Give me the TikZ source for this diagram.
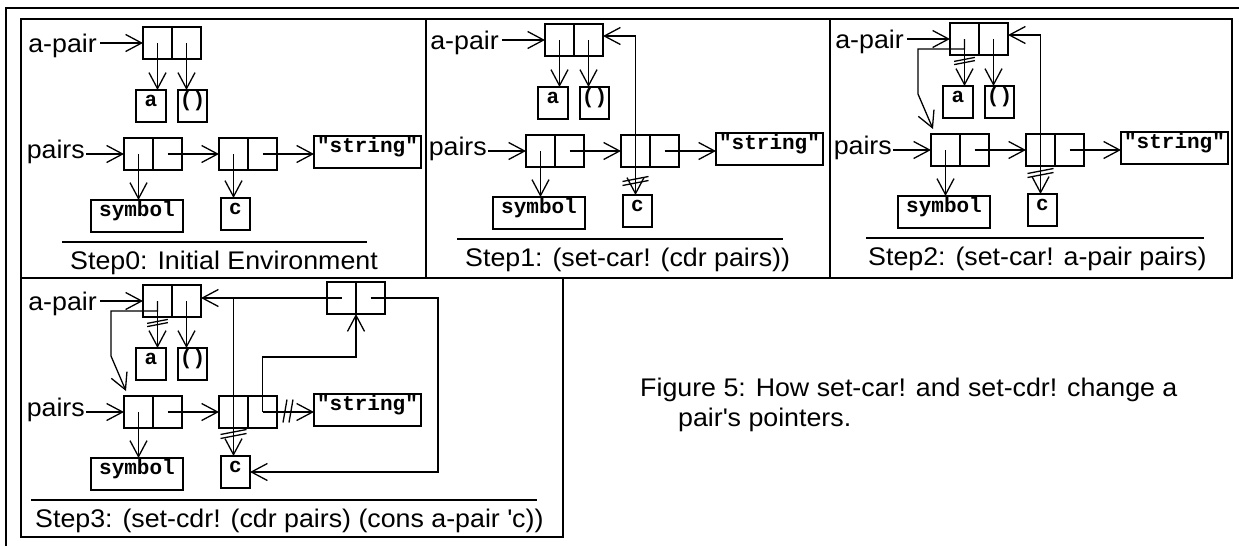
\documentclass[tikz,border=0pt]{standalone}
\usepackage{fontspec}
\setmainfont{Liberation Sans}[FakeStretch=1.05]
\newfontfamily\cellfont{Liberation Mono}
\usetikzlibrary{arrows.meta}

\tikzset{
  frame/.style={line width=1.7pt},
  wire/.style={line width=1.3pt},
  ptr/.style={wire, -{Straight Barb[length=16pt,width=17pt]}},
  half/.style={draw, wire, minimum width=29pt, minimum height=32pt, inner sep=0pt, outer sep=0pt},
  atom/.style={draw, wire, minimum height=32pt, inner sep=0pt, outer sep=0pt,
    font=\cellfont\bfseries\fontsize{21}{24}\selectfont, text height=9pt, text depth=9pt},
  varname/.style={inner ysep=0pt, anchor=base east, font=\fontsize{25.5}{30}\selectfont},
  steptext/.style={inner sep=0pt, anchor=base west, font=\fontsize{25.5}{30}\selectfont},
  cutv/.pic={\draw[wire] (-13,0.5) -- (13,-4.5) (-13,4.5) -- (13,-0.5);},
  cuth/.pic={\draw[wire] (-5,11.5) -- (-1,-11.5) (1,11.5) -- (5,-11.5);},
}

% The initial environment: a-pair -> (a), pairs -> (symbol c . "string")
\newcommand\basepanel{%
  \node[varname, inner xsep=3pt] (apl) at (100,52) {a-pair};
  \node[half] (apA) at (157.5,43) {};
  \node[half] (apD) at (186.5,43) {};
  \node[atom, minimum width=30pt] (abox) at (151,106) {a};
  \node[atom, minimum width=29pt] (nbox) at (192.5,106) {()};
  \node[varname, inner xsep=1pt] (prl) at (86,158) {pairs};
  \node[half] (p1A) at (138.5,154) {};
  \node[half] (p1D) at (167.5,154) {};
  \node[half] (p2A) at (233.5,154) {};
  \node[half] (p2D) at (262.5,154) {};
  \node[atom, minimum width=107pt] (sbox) at (367.5,152) {"string"};
  \node[atom, minimum width=92pt] (ybox) at (137,216) {symbol};
  \node[atom, minimum width=29pt] (cbox) at (235.5,214) {c};
  \draw[ptr] (apl.east |- apA.west) -- (apA.west);
  \draw[ptr] (apA.center) -- (apA.center |- abox.north);
  \draw[ptr] (apD.center) -- (apD.center |- nbox.north);
  \draw[ptr] (prl.east |- p1A.west) -- (p1A.west);
  \draw[ptr] (p1A.center) -- (p1A.center |- ybox.north);
  \draw[ptr] (p1D.center) -- (p2A.west);
  \draw[ptr] (p2A.center) -- (p2A.center |- cbox.north);
  \draw[ptr] (p2D.center) -- (p2D.center -| sbox.west);
}

\begin{document}
\begin{tikzpicture}[x=1pt, y=-1pt]
\useasboundingbox (0,0) rectangle (1239,546);

% page rules and panel frames
\draw[frame] (6,546) -- (6,8) -- (1239,8);
\draw[frame] (21,19) rectangle (1232,278);
\draw[frame] (426,19) -- (426,278);
\draw[frame] (830,19) -- (830,278);
\draw[frame] (21,278) rectangle (563,537);

% Step 0
\begin{scope}[name prefix=s0-]
  \basepanel
  \draw[wire] (62,242) -- (367,242);
  \node[steptext] (cap) at (70,269) {Step0: Initial Environment};
\end{scope}

% Step 1
\begin{scope}[shift={(402,-3)}, name prefix=s1-]
  \basepanel
  \pic at (233.5,184) {cutv};
  \draw[ptr] (p2A.center) |- ([yshift=4pt]apD.east);
  \draw[wire] (55,242) -- (381,242);
  \node[steptext] (cap) at (63,269) {Step1: (set-car! (cdr pairs))};
\end{scope}

% Step 2
\begin{scope}[shift={(807,-4)}, name prefix=s2-]
  \basepanel
  \pic at (233.5,177) {cutv};
  \pic[scale=0.8] at (157.5,65) {cutv};
  \draw[ptr] (p2A.center) |- ([yshift=4pt]apD.east);
  \draw[ptr] (apA.center) |- (111,53) -- (111,98) -- (126,133);
  \draw[wire] (59,242) -- (397,242);
  \node[steptext] (cap) at (61,269) {Step2: (set-car! a-pair pairs)};
\end{scope}

% Step 3
\begin{scope}[shift={(0,258)}, name prefix=s3-]
  \basepanel
  \node[half] (nA) at (341.5,40) {};
  \node[half] (nD) at (370.5,40) {};
  \coordinate (rt) at (438,0);
  \pic at (233.5,176) {cutv};
  \pic[scale=0.8] at (157.5,65) {cutv};
  \pic at (288,153) {cuth};
  \draw[wire] (p2A.center) -- (p2A.center |- nA.center);
  \draw[ptr] (nA.center) -- (nA.center -| apD.east);
  \draw[ptr] (apA.center) |- (111,53) -- (111,98) -- (126,133);
  \draw[ptr] (p2D.center) |- (356,99) -- (nA.south east);
  \draw[ptr] (nD.center) -| (rt |- cbox.east) -- (cbox.east);
  \draw[wire] (31,242) -- (537,242);
  \node[steptext] (cap) at (35,269) {Step3: (set-cdr! (cdr pairs) (cons a-pair \textquotesingle c))};
\end{scope}

% figure caption
\node[steptext] (fig1) at (640,396) {Figure 5: How set-car! and set-cdr! change a};
\node[steptext] (fig2) at (678,426) {pair\textquotesingle s pointers.};
\end{tikzpicture}
\end{document}
